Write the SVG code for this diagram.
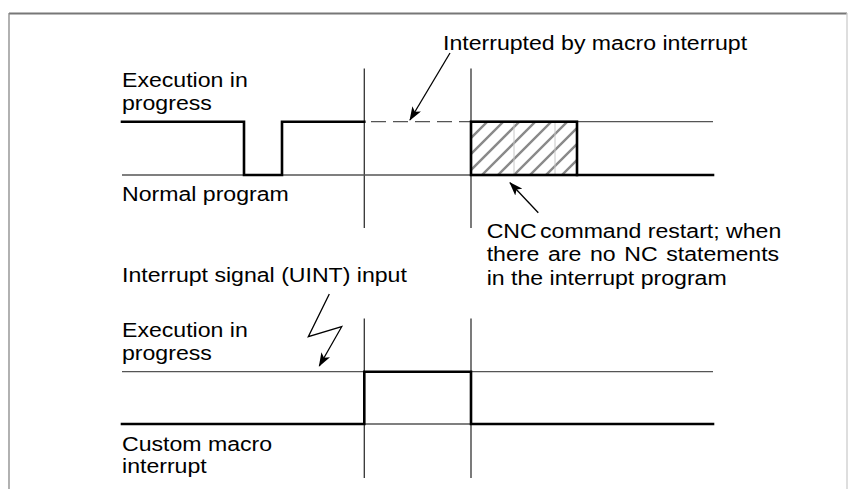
<svg xmlns="http://www.w3.org/2000/svg" width="848" height="489" viewBox="0 0 848 489">
<style>
.t{font-family:"Liberation Sans",Arial,sans-serif;font-size:21px;fill:#000}
.thin{stroke:#555;stroke-width:1.3;fill:none}
.grid{stroke:#333;stroke-width:1.3;fill:none}
.thick{stroke:#000;stroke-width:2.6;fill:none;stroke-linejoin:miter;stroke-linecap:square}
.arr{stroke:#000;stroke-width:1.3;fill:none}
.hatch{stroke:#8a8a8a;stroke-width:2.4}
</style>
<defs>
<marker id="ah" viewBox="0 0 14 10" refX="13" refY="5" markerWidth="14" markerHeight="10" markerUnits="userSpaceOnUse" orient="auto">
<path d="M0,0 L14,5 L0,10 L3.5,5 z" fill="#000"/>
</marker>
<clipPath id="hc"><rect x="471" y="121.7" width="106" height="53.3"/></clipPath>
</defs>
<rect width="848" height="489" fill="#fff"/>
<g id="frame">
<line x1="9" y1="13.5" x2="847" y2="13.5" stroke="#777" stroke-width="2.2"/>
<line x1="9" y1="13" x2="9" y2="489" stroke="#888" stroke-width="1.3"/>
<line x1="847" y1="13" x2="847" y2="489" stroke="#ccc" stroke-width="1.3"/>
</g>
<g id="grid">
<line class="grid" x1="364.3" y1="68.5" x2="364.3" y2="228"/>
<line class="grid" x1="471" y1="68.5" x2="471" y2="228"/>
<line class="grid" x1="364.3" y1="318.5" x2="364.3" y2="478"/>
<line class="grid" x1="471" y1="318.5" x2="471" y2="478"/>
</g>
<g id="normal-program">
<line class="thin" x1="122" y1="175" x2="713" y2="175"/>
<line class="thin" x1="577" y1="121.7" x2="713" y2="121.7"/>
<line class="thin" x1="371" y1="121.7" x2="471" y2="121.7" stroke-dasharray="15 7"/>
<g clip-path="url(#hc)">
<path class="hatch" d="M424,185 L494,115 M440,185 L510,115 M456,185 L526,115 M472,185 L542,115 M488,185 L558,115 M504,185 L574,115 M520,185 L590,115 M536,185 L606,115 M552,185 L622,115 M568,185 L638,115"/>
<line x1="514" y1="121.7" x2="514" y2="175" stroke="#c8c8c8" stroke-width="1"/>
<line x1="555" y1="121.7" x2="555" y2="175" stroke="#c8c8c8" stroke-width="1"/>
</g>
<path class="thick" d="M122,121.7 H244 V175 H282 V121.7 H364.3"/>
<rect x="471" y="121.7" width="106" height="53.3" class="thick"/>
<path class="thick" d="M577,175 H713"/>
<text class="t" transform="translate(122,86.7) scale(1.1,1)">Execution in<tspan x="0" dy="23.5">progress</tspan></text>
<text class="t" transform="translate(122,200.7) scale(1.1,1)">Normal program</text>
</g>
<g id="custom-macro">
<line class="thin" x1="122" y1="371.7" x2="713" y2="371.7"/>
<line class="thin" x1="122" y1="424" x2="713" y2="424"/>
<path class="thick" d="M122,424 H364.3 V371.7 H471 V424 H713"/>
<text class="t" transform="translate(122,336.7) scale(1.1,1)">Execution in<tspan x="0" dy="23.5">progress</tspan></text>
<text class="t" transform="translate(122,450.5) scale(1.1,1)">Custom macro<tspan x="0" dy="23">interrupt</tspan></text>
</g>
<g id="label-interrupted">
<text class="t" transform="translate(443,50) scale(1.1,1)">Interrupted by macro interrupt</text>
</g>
<g id="label-restart">
<text class="t" transform="translate(486.7,238) scale(1.1,1)"><tspan>CNC</tspan><tspan dx="3">command restart; when</tspan><tspan x="0" dy="23.5" word-spacing="2">there are no NC statements</tspan><tspan x="0" dy="23.5">in the interrupt program</tspan></text>
</g>
<g id="label-uint">
<text class="t" transform="translate(122,282) scale(1.1,1)">Interrupt signal (UINT) input</text>
</g>
<g id="connectors">
<line class="arr" x1="450" y1="53" x2="410" y2="120" marker-end="url(#ah)"/>
<line class="arr" x1="538.3" y1="212.7" x2="510" y2="182.7" marker-end="url(#ah)"/>
<polyline class="arr" points="329.3,294 308.3,336.7 341.7,326.7 319.3,366" marker-end="url(#ah)"/>
</g>
</svg>
